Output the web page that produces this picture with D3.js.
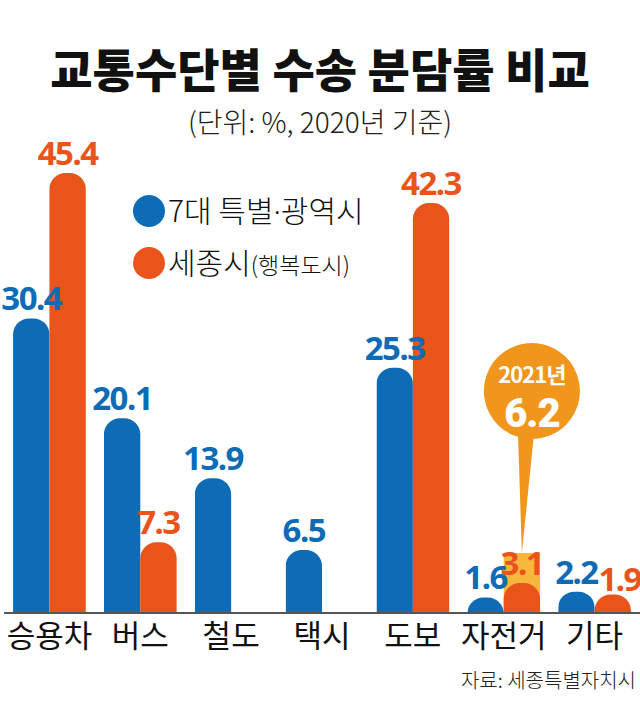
<!DOCTYPE html>
<html>
<head>
<meta charset="utf-8">
<script src="https://cdn.jsdelivr.net/npm/d3@7"></script>
<style>
  body { margin: 0; background: #fff; }
  text { font-family: "Noto Sans CJK KR", "Noto Sans", sans-serif; }
  .num { font-family: "Noto Sans", "Noto Sans CJK KR", sans-serif; font-weight: 700; letter-spacing: -1.5px; }
</style>
</head>
<body>
<script>
// 교통수단별 수송 분담률 (2020)
var categories = ["승용차", "버스", "철도", "택시", "도보", "자전거", "기타"];
var metroValues = [30.4, 20.1, 13.9, 6.5, 25.3, 1.6, 2.2];   // 7대 특별·광역시
var sejongValues = [45.4, 7.3, null, null, 42.3, 3.1, 1.9];  // 세종시
var bike2021 = 6.2;
var seriesNames = ["7대 특별", "세종시"];

var width = 640;
var height = 714;
var base = 613;

var blue = "#0e6bb5";
var orange = "#e9541b";

var svg = d3.select("body").append("svg")
    .attr("width", width)
    .attr("height", height);

var x = d3.scaleBand()
    .domain(categories)
    .range([4, 640])
    .paddingInner(0.2)
    .paddingOuter(0.1);

var x1 = d3.scaleBand()
    .domain(["a", "b"])
    .range([0, x.bandwidth()]);

var y = d3.scaleLinear()
    .domain([0, 50])
    .range([base, base - 50 * 9.69]);

// title
svg.append("text")
    .attr("x", 320).attr("y", 87)
    .attr("text-anchor", "middle")
    .attr("font-size", 46)
    .attr("font-weight", 900)
    .attr("fill", "#111")
    .text("교통수단별 수송 분담률 비교");

svg.append("text")
    .attr("x", 320).attr("y", 133)
    .attr("text-anchor", "middle")
    .attr("font-size", 28)
    .attr("font-weight", 300)
    .attr("fill", "#222")
    .text("(단위: %, 2020년 기준)");

svg.append("clipPath").attr("id", "clip")
  .append("rect")
    .attr("x", 0).attr("y", 0)
    .attr("width", width).attr("height", base);

var data = categories.map(function(c, i){
  return {cat: c, vals: [{k: "a", v: metroValues[i]}, {k: "b", v: sejongValues[i]}]};
});

// 2021 highlight column behind 자전거 세종시 bar
svg.append("rect")
    .attr("x", x("자전거") + x1("b"))
    .attr("y", y(bike2021))
    .attr("width", x1.bandwidth())
    .attr("height", base - y(bike2021))
    .attr("fill", "#f6b73c");

var groups = svg.selectAll(".grp")
    .data(data)
  .enter().append("g")
    .attr("class", "grp")
    .attr("transform", function(d){ return "translate(" + x(d.cat) + ",0)"; });

groups.selectAll("rect")
    .data(function(d){ return d.vals.filter(function(e){ return e.v != null; }); })
  .enter().append("rect")
    .attr("clip-path", "url(#clip)")
    .attr("x", function(d){ return x1(d.k); })
    .attr("y", function(d){ return y(d.v); })
    .attr("width", x1.bandwidth())
    .attr("height", function(d){ return base - y(d.v) + 20; })
    .attr("rx", 16).attr("ry", 16)
    .attr("fill", function(d){ return d.k == "a" ? blue : orange; });

groups.selectAll(".num")
    .data(function(d){
      return d.vals.filter(function(e){ return e.v != null; })
        .map(function(e){ e.last = d.cat == "기타" && e.k == "b"; return e; });
    })
  .enter().append("text")
    .attr("class", "num")
    .attr("x", function(d){ return x1(d.k) + x1.bandwidth() / 2 + (d.last ? 7 : 0); })
    .attr("y", function(d){ return y(d.v) - (d.last ? 4 : 8); })
    .attr("text-anchor", "middle")
    .attr("font-size", 33)
    .attr("fill", function(d){ return d.k == "a" ? blue : orange; })
    .text(function(d){ return d.v.toFixed(1); });

// axis line
svg.append("line")
    .attr("x1", 4).attr("x2", 640)
    .attr("y1", base).attr("y2", base)
    .attr("stroke", "#555")
    .attr("stroke-width", 2);

svg.selectAll(".cat")
    .data(categories)
  .enter().append("text")
    .attr("class", "cat")
    .attr("x", function(d){ return x(d) + x.bandwidth() / 2; })
    .attr("y", 647)
    .attr("text-anchor", "middle")
    .attr("font-size", 31)
    .attr("font-weight", 400)
    .attr("fill", "#111")
    .text(function(d){ return d; });

// callout for 2021 value
var tipX = x("자전거") + x1("b") + x1.bandwidth() / 2;
var cx = tipX + 10, cy = 391;
svg.append("path")
    .attr("d", "M" + (cx - 14) + "," + (cy + 40) + " L" + tipX + "," + y(bike2021) +
               " L" + (cx + 2) + "," + (cy + 44) + " Z")
    .attr("fill", "#f0961c");
svg.append("circle")
    .attr("cx", cx).attr("cy", cy).attr("r", 48)
    .attr("fill", "#f0961c");
svg.append("text")
    .attr("x", cx).attr("y", cy - 8)
    .attr("text-anchor", "middle")
    .attr("font-size", 22)
    .attr("font-weight", 700)
    .attr("fill", "#fff")
    .style("letter-spacing", "-1px")
    .text("2021년");
svg.append("text")
    .attr("x", cx).attr("y", cy + 36)
    .attr("text-anchor", "middle")
    .attr("font-size", 40)
    .attr("font-weight", 900)
    .attr("fill", "#fff")
    .style("font-family", "Roboto, 'Liberation Sans', sans-serif")
    .style("letter-spacing", "-1px")
    .text(bike2021.toFixed(1));

// legend
var legend = svg.selectAll(".leg")
    .data(seriesNames)
  .enter().append("g")
    .attr("class", "leg")
    .attr("transform", function(d, i){ return "translate(149," + (211 + i * 52) + ")"; });

legend.append("circle")
    .attr("r", 16)
    .attr("fill", function(d, i){ return i == 0 ? blue : orange; });

var lt = legend.append("text")
    .attr("x", 19).attr("y", 11)
    .attr("font-size", 30)
    .attr("font-weight", 300)
    .attr("fill", "#111");
lt.append("tspan").text(function(d){ return d; });
lt.filter(function(d, i){ return i == 0; })
  .append("tspan")
    .style("font-family", "'Noto Sans', sans-serif")
    .text("·");
lt.filter(function(d, i){ return i == 0; })
  .append("tspan")
    .text("광역시");
lt.filter(function(d, i){ return i == 1; })
  .append("tspan")
    .attr("font-size", 23)
    .text("(행복도시)");

// source
svg.append("text")
    .attr("x", 636).attr("y", 688)
    .attr("text-anchor", "end")
    .attr("font-size", 20)
    .attr("font-weight", 300)
    .attr("fill", "#222")
    .text("자료: 세종특별자치시");
</script>
</body>
</html>
